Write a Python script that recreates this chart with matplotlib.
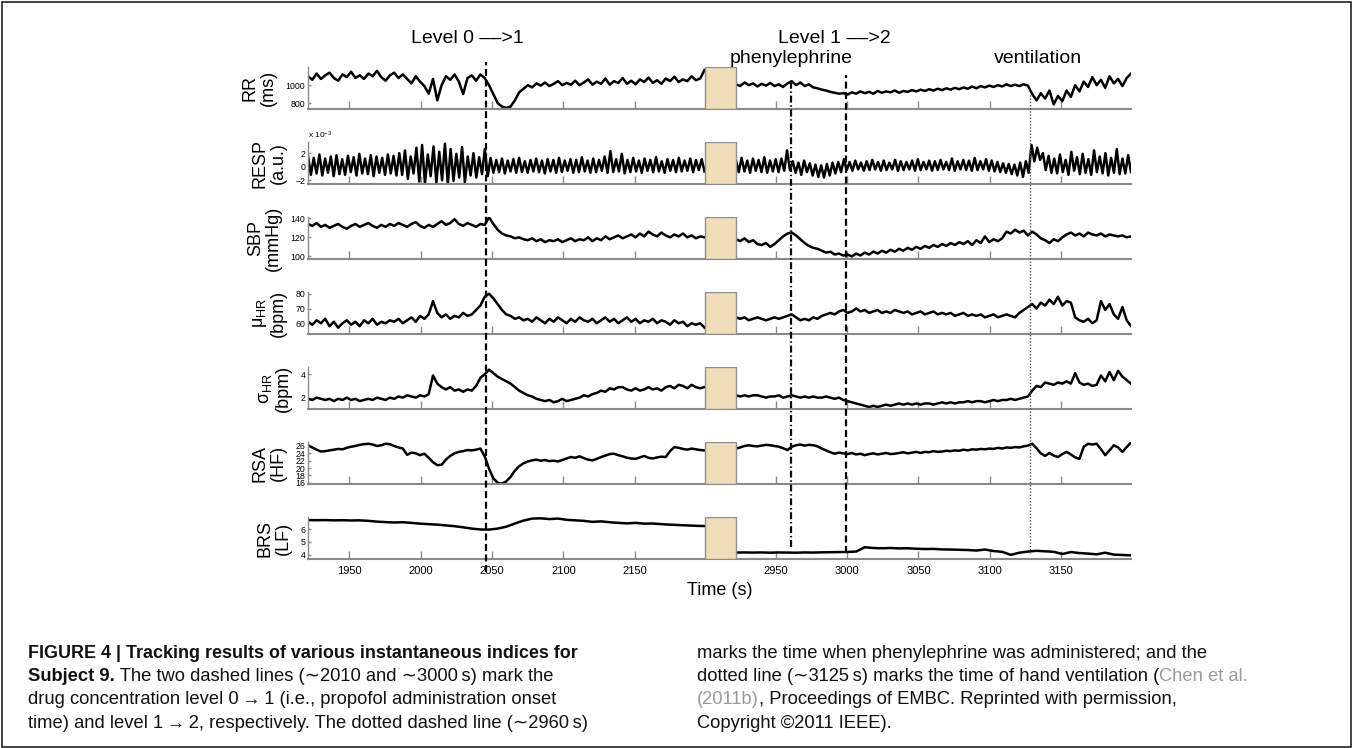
import numpy as np
import matplotlib
matplotlib.use('Agg')
import matplotlib.pyplot as plt
import matplotlib.transforms as mtransforms
from matplotlib.lines import Line2D
from matplotlib.patches import Rectangle

plt.rcParams['font.family'] = ['Liberation Sans', 'DejaVu Sans']
plt.rcParams['mathtext.fontset'] = 'custom'
plt.rcParams['mathtext.rm'] = 'Liberation Sans'
plt.rcParams['mathtext.it'] = 'Liberation Sans:italic'
plt.rcParams['lines.scale_dashes'] = False

# two recorded stretches (s); the part in between is cut out of the time axis
seg_left = (1921, 2199)
seg_right = (2922, 3199)

rr_left = [1100, 1060, 1130, 1070, 1110, 1140, 1080, 1050, 1120, 1090,
           1150, 1080, 1110, 1070, 1130, 1100, 1160, 1090, 1050, 1110,
           1140, 1080, 1120, 1070, 1020, 1100, 1040, 990, 905, 1070,
           830, 1000, 1100, 1060, 1120, 1040, 900, 1080, 1110, 1050,
           1120, 1080, 1000, 900, 800, 760, 745, 760, 830, 920,
           960, 1000, 975, 1020, 995, 1030, 990, 1015, 1045, 1000,
           1025, 1005, 1050, 1000, 1030, 1065, 1005, 1040, 1015, 1075,
           1005, 1045, 1025, 1080, 1015, 1050, 1010, 1065, 1035, 1085,
           1025, 1055, 1015, 1075, 1045, 1095, 1035, 1065, 1045, 1100,
           1055, 1075, 1170]
rr_right = [1010, 990, 1030, 1000, 1020, 985, 1015, 995, 1025, 990,
            1010, 980, 1020, 1045, 1000, 1030, 990, 1010, 975, 965,
            950, 940, 925, 915, 905, 910, 895, 920, 905, 930,
            910, 925, 905, 935, 915, 930, 920, 940, 915, 935,
            925, 945, 930, 950, 935, 955, 940, 960, 945, 965,
            950, 970, 955, 975, 960, 985, 965, 990, 975, 995,
            980, 1000, 985, 1010, 990, 1005, 990, 1010, 995, 900,
            830, 910, 850, 940, 785, 880, 820, 940, 870, 1000,
            930, 1040, 980, 1090, 1000, 1060, 970, 1100, 1020, 1070,
            990, 1080, 1130]

# respiration (x 1e-3): successive peaks and troughs of each breath
resp_peak_left = [1.6, 1.3, 1.8, 1.2, 1.5, 1.7, 1.1, 1.6, 1.4, 1.9, 1.2, 1.7, 1.5, 1.3, 1.8, 1.6, 2.0,
                  2.4, 1.5, 2.8, 3.2, 1.8, 3.0, 2.2, 3.4, 2.6, 1.9, 2.9,
                  1.5, 2.0, 1.4, 2.6,
                  1.3, 1.0, 1.2, 0.9, 1.1, 1.3, 0.8, 1.0, 1.2, 0.9, 1.1, 1.0, 1.3, 0.9, 1.1, 1.0,
                  1.4, 0.9, 1.2, 1.0, 1.5, 2.3, 1.1, 1.9, 1.0, 1.3, 0.9, 1.2, 1.0, 1.4, 0.8, 1.1,
                  1.0, 1.3, 0.9, 1.2, 1.0, 1.1]
resp_trough_left = [-1.2, -1.0, -1.3, -0.9, -1.4, -1.1, -1.2, -0.8, -1.3, -1.0, -1.1, -1.4, -0.9, -1.2, -1.0, -1.3, -1.2,
                    -1.8, -1.0, -2.2, -2.5, -1.4, -2.4, -2.0, -2.6, -2.1, -1.6, -2.3,
                    -1.3, -1.6, -1.1, -1.4,
                    -0.9, -0.8, -1.0, -0.7, -0.9, -0.8, -0.9, -0.7, -0.8, -1.0, -0.7, -0.9, -0.8, -0.6, -0.9, -0.8,
                    -0.7, -0.9, -0.8, -0.6, -0.9, -0.8, -0.7, -1.0, -0.8, -0.7, -0.9, -0.6, -0.8, -0.7, -0.9, -0.6,
                    -0.8, -0.7, -0.6, -0.8, -0.5, -0.7]
resp_peak_right = [1.0, 1.3, 0.9, 1.2, 1.0, 1.4, 0.9, 1.1, 1.2, 2.4,
                   0.8, 0.6, 0.9, 0.5, 0.3, 0.2, 0.4, 0.6, 0.7,
                   1.1, 0.7, 0.9, 0.6, 0.8, 1.0, 0.7, 0.9, 0.6, 1.0, 0.8, 0.7, 0.9, 1.1, 0.7, 0.9,
                   0.8, 1.0, 0.7, 1.2, 0.8, 1.0, 0.9, 1.3, 0.8, 1.1, 0.9, 0.7, 0.5, 0.4, 0.3, 0.6, 0.8,
                   3.2, 2.8, 2.0, 1.6, 1.2, 1.8, 1.0, 2.2, 1.4, 1.9, 1.1, 2.4, 1.5, 2.0, 1.3, 2.6, 1.2, 1.7]
resp_trough_right = [-0.8, -0.7, -0.9, -0.6, -0.8, -0.9, -0.7, -0.8, -0.6, -0.5,
                     -0.9, -1.2, -0.8, -1.3, -1.5, -1.6, -1.3, -1.0, -0.8,
                     -0.5, -0.6, -0.4, -0.6, -0.5, -0.4, -0.6, -0.5, -0.4, -0.6, -0.5, -0.4, -0.6, -0.5, -0.4, -0.6,
                     -0.5, -0.4, -0.5, -0.6, -0.4, -0.5, -0.6, -0.5, -0.4, -0.6, -0.7, -0.8, -0.9, -1.1, -1.3, -1.5, -0.9,
                     0.8, 1.0, -0.5, -0.9, -1.0, -0.8, -1.2, -0.6, -1.1, -0.9, -1.2, -0.8, -1.0, -1.3, -0.9, -1.1, -1.0, -0.8]

sbp_left = [134, 132, 135, 131, 133, 130, 132, 134, 131, 129,
            132, 134, 131, 133, 135, 132, 130, 133, 131, 134,
            132, 135, 133, 131, 134, 136, 132, 130, 133, 131,
            134, 137, 133, 135, 139, 134, 132, 135, 133, 131,
            134, 133, 141, 134, 128, 124, 122, 121, 119, 120,
            118, 117, 119, 116, 118, 115, 117, 116, 118, 115,
            117, 119, 116, 118, 117, 120, 116, 119, 117, 121,
            118, 120, 122, 119, 121, 123, 120, 124, 121, 126,
            123, 121, 125, 122, 120, 123, 121, 124, 120, 122,
            119, 121, 120]
sbp_right = [118, 116, 119, 115, 117, 113, 112, 114, 110, 113,
             117, 121, 124, 125, 122, 118, 114, 111, 109, 108,
             106, 104, 105, 102, 103, 101, 102, 100, 103, 101,
             104, 102, 105, 103, 106, 104, 107, 105, 108, 106,
             109, 107, 110, 108, 111, 109, 112, 110, 113, 111,
             114, 112, 115, 113, 116, 112, 117, 114, 121, 115,
             118, 116, 119, 126, 124, 128, 125, 127, 122, 126,
             123, 119, 117, 114, 118, 116, 120, 123, 125, 122,
             124, 121, 125, 123, 122, 124, 121, 123, 122, 121,
             122, 120, 121]

mu_hr_left = [61, 59, 62, 60, 63, 58, 61, 57, 60, 62,
              59, 61, 58, 62, 60, 63, 59, 61, 60, 62,
              61, 63, 60, 62, 64, 61, 65, 63, 66, 75,
              67, 64, 66, 63, 65, 64, 67, 65, 66, 69,
              72, 78, 80, 77, 73, 69, 66, 65, 63, 64,
              62, 63, 61, 64, 62, 60, 63, 61, 64, 62,
              60, 63, 61, 64, 62, 61, 63, 60, 62, 64,
              61, 63, 60, 62, 64, 61, 63, 60, 62, 61,
              63, 60, 62, 61, 59, 62, 60, 61, 58, 60,
              59, 60, 57]
mu_hr_right = [64, 63, 64, 62, 63, 64, 63, 62, 63, 64,
               63, 64, 65, 66, 64, 62, 63, 62, 64, 63,
               65, 66, 67, 66, 68, 69, 67, 68, 70, 68,
               69, 67, 68, 69, 67, 68, 67, 69, 68, 67,
               68, 66, 67, 68, 66, 67, 68, 66, 67, 66,
               67, 65, 66, 67, 65, 66, 65, 66, 64, 65,
               66, 64, 65, 66, 65, 64, 67, 69, 71, 73,
               70, 74, 72, 76, 73, 78, 72, 75, 74, 64,
               62, 61, 63, 60, 62, 75, 69, 73, 66, 63,
               71, 62, 58]

sigma_hr_left = [1.9, 1.8, 2.0, 1.9, 1.8, 1.9, 1.7, 1.9, 1.8, 2.0,
                 1.8, 1.9, 1.7, 1.8, 1.9, 1.8, 2.0, 1.9, 1.8, 2.0,
                 1.9, 2.1, 2.0, 2.2, 2.1, 2.0, 2.2, 2.1, 2.3, 3.9,
                 3.2, 2.9, 2.7, 2.9, 2.6, 2.7, 2.5, 2.7, 2.6, 3.0,
                 3.7, 4.0, 4.4, 4.1, 3.8, 3.6, 3.4, 3.2, 2.9, 2.6,
                 2.4, 2.2, 2.1, 1.9, 1.8, 1.7, 1.8, 1.6, 1.7, 1.9,
                 1.7, 1.8, 1.9, 2.0, 2.2, 2.1, 2.3, 2.4, 2.6, 2.5,
                 2.8, 2.7, 2.9, 2.9, 2.7, 2.6, 2.8, 2.6, 2.7, 2.9,
                 2.7, 2.8, 2.6, 2.9, 3.0, 2.8, 3.1, 3.0, 2.8, 3.1,
                 2.9, 2.8, 2.9]
sigma_hr_right = [2.2, 2.1, 2.2, 2.1, 2.2, 2.2, 2.1, 2.0, 2.1, 2.1,
                  2.2, 2.0, 2.1, 2.2, 2.1, 2.0, 2.1, 2.0, 2.1, 2.0,
                  2.0, 2.1, 2.0, 1.9, 2.0, 1.8, 1.7, 1.6, 1.5, 1.4,
                  1.3, 1.2, 1.3, 1.2, 1.3, 1.4, 1.3, 1.4, 1.5, 1.4,
                  1.5, 1.4, 1.5, 1.4, 1.5, 1.5, 1.4, 1.5, 1.6, 1.5,
                  1.6, 1.5, 1.6, 1.6, 1.7, 1.6, 1.7, 1.7, 1.6, 1.7,
                  1.8, 1.7, 1.8, 1.8, 1.9, 1.8, 1.9, 2.0, 2.1, 2.6,
                  3.0, 2.9, 3.3, 3.2, 3.1, 3.3, 3.2, 3.4, 3.2, 4.1,
                  3.3, 3.1, 3.2, 3.0, 3.1, 3.9, 3.4, 4.2, 3.5, 4.3,
                  3.8, 3.5, 3.2]

rsa_left = [26.2, 25.6, 25.0, 24.5, 24.6, 24.8, 25.0, 25.2, 25.1, 25.5,
            25.8, 26.0, 26.3, 26.5, 26.6, 26.4, 26.0, 26.2, 26.6, 26.5,
            26.0, 25.6, 25.3, 23.6, 24.2, 24.0, 23.5, 23.9, 22.8, 21.6,
            20.8, 20.9, 22.3, 23.3, 24.0, 24.4, 24.6, 24.9, 24.8, 25.0,
            25.3, 23.2, 19.8, 17.2, 16.0, 15.8, 16.4, 17.6, 19.3, 20.5,
            21.3, 21.8, 22.1, 22.3, 22.0, 22.2, 21.9, 22.0, 21.8, 22.2,
            22.6, 23.0, 22.8, 23.2, 22.7, 22.3, 22.1, 22.5, 23.0, 23.4,
            23.8, 23.9, 23.5, 23.2, 22.8, 22.6, 22.5, 22.9, 23.3, 22.8,
            22.6, 22.9, 23.1, 23.0, 24.6, 25.7, 25.5, 25.2, 25.0, 25.3,
            25.1, 24.9, 24.8]
rsa_right = [25.3, 25.6, 26.0, 26.2, 26.0, 25.9, 26.1, 26.3, 26.2, 26.0,
             25.8, 25.4, 24.9, 25.8, 26.2, 26.4, 26.1, 26.3, 26.2, 25.9,
             25.3, 24.8, 24.3, 23.9, 24.2, 24.0, 23.8, 24.1, 23.7, 23.9,
             23.5, 23.8, 24.0, 23.7, 23.9, 24.1, 23.8, 23.9, 24.1, 24.3,
             24.0, 24.2, 24.4, 24.1, 24.4, 24.3, 24.6, 24.4, 24.5, 24.7,
             24.6, 24.8, 24.7, 25.0, 24.8, 25.1, 25.0, 25.2, 25.1, 25.3,
             25.2, 25.5, 25.3, 25.6, 25.5, 25.7, 25.6, 25.9, 26.1, 26.6,
             25.4, 24.0, 23.3, 24.1, 23.4, 23.0, 23.8, 24.4, 23.7, 22.9,
             22.5, 25.8, 26.6, 26.4, 26.6, 25.1, 23.5, 24.8, 26.2, 25.6,
             24.4, 25.7, 27.0]

brs_left = [6.72, 6.71, 6.72, 6.70, 6.71, 6.69, 6.70, 6.66, 6.60, 6.56,
            6.53, 6.55, 6.50, 6.44, 6.40, 6.36, 6.30, 6.24, 6.15, 6.05,
            5.98, 5.97, 6.05, 6.20, 6.45, 6.68, 6.84, 6.86, 6.80, 6.84,
            6.74, 6.70, 6.66, 6.58, 6.62, 6.55, 6.50, 6.46, 6.50, 6.44,
            6.45, 6.40, 6.36, 6.33, 6.30, 6.27, 6.25]
brs_right = [4.16, 4.17, 4.16, 4.17, 4.15, 4.17, 4.16, 4.15, 4.17, 4.16,
             4.18, 4.19, 4.20, 4.21, 4.24, 4.58, 4.52, 4.50, 4.52, 4.49,
             4.50, 4.46, 4.44, 4.45, 4.41, 4.40, 4.38, 4.36, 4.32, 4.40,
             4.28, 4.22, 3.98, 4.15, 4.24, 4.30, 4.26, 4.22, 4.05, 4.20,
             4.12, 4.08, 4.02, 4.15, 4.00, 3.97, 3.94]

labels = ['RR\n(ms)', 'RESP\n(a.u.)', 'SBP\n(mmHg)',
          '\u03bc$_{\\mathrm{HR}}$\n(bpm)', '\u03c3$_{\\mathrm{HR}}$\n(bpm)',
          'RSA\n(HF)', 'BRS\n(LF)']
ylims = [(730, 1200), (-2.6, 3.6), (97, 141), (52.5, 81), (1.0, 4.6), (15.6, 27.0), (3.63, 6.94)]
yticks = [[800, 1000], [-2, 0, 2], [100, 120, 140], [60, 70, 80], [2, 4],
          [16, 18, 20, 22, 24, 26], [4, 5, 6]]
xticks = [1950, 2000, 2050, 2100, 2150, 2950, 3000, 3050, 3100, 3150]

# event markers (s) and their captions
events = [2046, 2960.5, 2999.5, 3128.5]
event_styles = [(0, (5, 2.6)), (0, (5, 2, 1, 2)), (0, (5, 2.6)), (0, (1, 1.3))]
notes = [('Level 0 \u2013\u2013>1', 2033), ('Level 1 \u2013\u2013>2', 2991),
         ('phenylephrine', 2961), ('ventilation', 3134)]

GAP = seg_right[0] - seg_left[1] - 22  # seconds hidden behind the beige block


def squeeze(t):
    t = np.asarray(t, dtype=float)
    return np.where(t > 2500, t - GAP, t)


def breaths(peaks, troughs):
    return np.column_stack([peaks, troughs]).ravel()


series = [
    (rr_left, rr_right),
    (breaths(resp_peak_left, resp_trough_left), breaths(resp_peak_right, resp_trough_right)),
    (sbp_left, sbp_right),
    (mu_hr_left, mu_hr_right),
    (sigma_hr_left, sigma_hr_right),
    (rsa_left, rsa_right),
    (brs_left, brs_right),
]

W, H = 1357, 748
fig = plt.figure(figsize=(W / 100, H / 100), dpi=100)


def fx(px):
    return px / W


def fy(py):
    return 1 - py / H


ax_l, ax_r = 308, 1131
tops = [67.3 + 75 * k for k in range(7)]
ax_h = 42
grey = '#8a8a8a'

axes = []
for k, (lab, (yl, yr)) in enumerate(zip(labels, series)):
    ax = fig.add_axes([fx(ax_l), fy(tops[k] + ax_h), fx(ax_r) - fx(ax_l), ax_h / H])
    tl = np.linspace(seg_left[0], seg_left[1], len(yl))
    tr = np.linspace(seg_right[0], seg_right[1], len(yr))
    ax.plot(squeeze(tl), yl, color='k', lw=1.8)
    ax.plot(squeeze(tr), yr, color='k', lw=1.8)
    gap_x0 = float(squeeze(seg_left[1]))
    gap_x1 = float(squeeze(seg_right[0]))
    ax.add_patch(Rectangle((gap_x0, 0), gap_x1 - gap_x0, 1, transform=ax.get_xaxis_transform(),
                           facecolor='#f1ddb9', edgecolor='#909090', lw=1, zorder=3))
    ax.set_xlim(float(squeeze(seg_left[0])), float(squeeze(seg_right[1])))
    ax.set_ylim(*ylims[k])
    ax.set_yticks(yticks[k])
    ax.set_xticks(squeeze(xticks))
    for side in ('top', 'right'):
        ax.spines[side].set_visible(False)
    ax.spines['bottom'].set_color(grey)
    ax.spines['bottom'].set_linewidth(1.5)
    ax.spines['left'].set_color(grey)
    ax.spines['left'].set_linewidth(1.0)
    ax.tick_params(axis='x', direction='in', length=5.8, width=1, color=grey,
                   labelsize=8, pad=5, labelbottom=(k == 6))
    ax.tick_params(axis='y', direction='in', length=2.5, width=1, color=grey,
                   labelsize=6.3, pad=2)
    ax.set_ylabel(lab, fontsize=13, labelpad=6, linespacing=1.1)
    ax.patch.set_alpha(0)
    axes.append(ax)

axes[-1].set_xticklabels([str(v) for v in xticks])
axes[-1].set_xlabel('Time (s)', fontsize=13, labelpad=4)
axes[1].text(0.0, 1.04, r'x 10$^{-3}$', transform=axes[1].transAxes, fontsize=6, va='bottom')

# event lines run through every panel
trans = mtransforms.blended_transform_factory(axes[-1].transData, fig.transFigure)
line_tops = [62, 83, 75, 93]
line_bottoms = [572, 547, 553, 553]
for k, (ev, ls) in enumerate(zip(events, event_styles)):
    dotted = k == 3
    fig.add_artist(Line2D([float(squeeze(ev))] * 2, [fy(line_bottoms[k]), fy(line_tops[k])],
                          transform=trans, color='#555555' if dotted else 'k',
                          lw=1.0 if dotted else 1.6, linestyle=ls, zorder=5))

for k, (txt, t) in enumerate(notes):
    y = fy(43) if k < 2 else fy(63)
    fig.text(float(squeeze(t)), y, txt, transform=trans, ha='center', va='baseline', fontsize=14)

# caption, written piece by piece because of mixed weights and colours
renderer = fig.canvas.get_renderer()


def write_runs(x_px, base_px, parts, size=13.2):
    x = x_px
    for s, bold, color in parts:
        t = fig.text(fx(x), fy(base_px), s, fontsize=size, va='baseline', ha='left',
                     fontweight='bold' if bold else 'normal', color=color)
        x += t.get_window_extent(renderer).width


k_ = '#111111'
g_ = '#9a9a9a'
base = [657.5, 681, 704.5, 728]
write_runs(28, base[0], [('FIGURE 4 | Tracking results of various instantaneous indices for', True, k_)], size=12.9)
write_runs(28, base[1], [('Subject 9.', True, k_),
                          (' The two dashed lines (\u223c2010 and \u223c3000\u2009s) mark the', False, k_)])
write_runs(28, base[2], [('drug concentration level 0\u2009\u2192\u20091 (i.e., propofol administration onset', False, k_)])
write_runs(28, base[3], [('time) and level 1\u2009\u2192\u20092, respectively. The dotted dashed line (\u223c2960\u2009s)', False, k_)])
write_runs(697, base[0], [('marks the time when phenylephrine was administered; and the', False, k_)])
write_runs(697, base[1], [('dotted line (\u223c3125\u2009s) marks the time of hand ventilation (', False, k_),
                           ('Chen et al.', False, g_)])
write_runs(697, base[2], [('(2011b)', False, g_),
                           (', Proceedings of EMBC. Reprinted with permission,', False, k_)])
write_runs(697, base[3], [('Copyright \u00a92011 IEEE).', False, k_)])

fig.add_artist(Rectangle((fx(1.5), fy(746.5)), fx(1350.5) - fx(1.5), (746.5 - 1.5) / H,
                         transform=fig.transFigure, fill=False, lw=1.2, edgecolor='#222222'))

fig.savefig('out.png', dpi=100)
